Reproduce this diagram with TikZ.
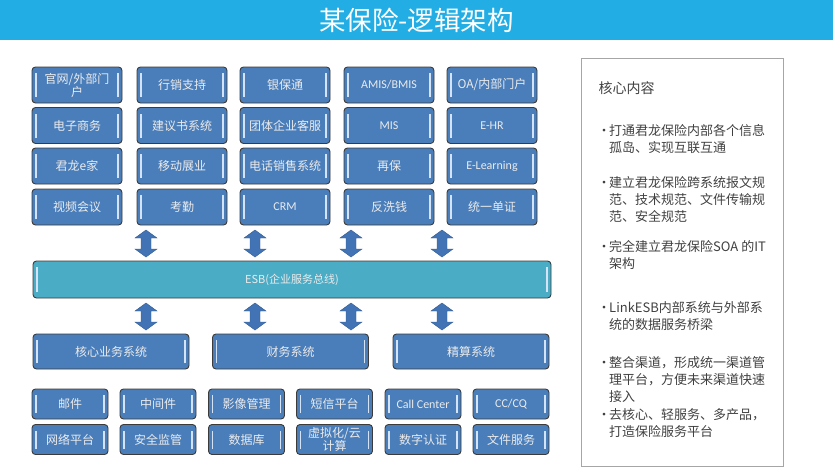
\documentclass[tikz,border=0pt]{standalone}
\usepackage{fontspec}
\newfontfamily\cjk{Noto Sans CJK SC}
\newfontfamily\latin{Carlito}
\usetikzlibrary{positioning}

\definecolor{titleblue}{HTML}{22AEE4}
\definecolor{boxblue}{HTML}{4A7EBB}
\definecolor{boxline}{HTML}{3B3B3B}
\definecolor{esbteal}{HTML}{4BACC6}
\definecolor{hilite}{HTML}{D4E3F5}
\definecolor{arrowblue}{HTML}{4173B5}
\definecolor{panelline}{HTML}{A6A6A6}
\definecolor{paneltext}{HTML}{404040}

\tikzset{
    box/.style={draw=boxline, fill=boxblue, rounded corners=3.5pt, line width=0.9pt,
        text=white!92!black, font=\cjk\fontsize{12}{13}\selectfont, align=center,
        inner sep=1pt, minimum width=90pt, minimum height=36pt,
        path picture={
            \draw[hilite, line width=1.1pt]
                ([shift={(4pt,6pt)}]path picture bounding box.south west) --
                ([shift={(4pt,-6pt)}]path picture bounding box.north west);
            \draw[hilite, line width=1.1pt]
                ([shift={(-4pt,6pt)}]path picture bounding box.south east) --
                ([shift={(-4pt,-6pt)}]path picture bounding box.north east);
        }},
    corebox/.style={box, minimum width=156pt, minimum height=35pt},
    basebox/.style={box, minimum width=76pt, minimum height=30pt},
    esbbox/.style={box, fill=esbteal, minimum width=518pt, minimum height=37pt,
        font=\cjk\fontsize{11}{13}\selectfont},
    paneltxt/.style={font=\cjk\fontsize{13}{17}\selectfont, text=paneltext,
        align=left, anchor=north west, inner sep=0pt}
}

% Doppelpfeil (x, y oben)
\newcommand{\dblarrow}[2]{%
    \filldraw[fill=arrowblue, draw=arrowblue!80!black, line width=0.4pt]
        (#1,#2) -- ++(11,8) -- ++(-6,0) -- ++(0,11) -- ++(6,0) -- ++(-11,8)
        -- ++(-11,-8) -- ++(6,0) -- ++(0,-11) -- ++(-6,0) -- cycle;}

\newcommand{\pkt}{\makebox[10pt][c]{·}}
\newcommand{\ein}{\hspace*{10pt}}

\begin{document}
\begin{tikzpicture}[x=1pt, y=-1pt]

  \useasboundingbox (0,0) rectangle (833,469);

  % Titel
  \fill[titleblue] (0,0) rectangle (833,40);
  \node[text=white, font=\cjk\fontsize{26.5}{28}\selectfont] (titel) at (416.5,20) {某保险-逻辑架构};

  % Anwendungen oben
  \node[box] (a11) at (77,85)  {官网/外部门\\户};
  \node[box] (a12) at (182,85) {行销支持};
  \node[box] (a13) at (285,85) {银保通};
  \node[box, font=\latin\fontsize{12}{13}\selectfont] (a14) at (389,85) {AMIS/BMIS};
  \node[box] (a15) at (492,85) {OA/内部门户};

  \node[box] (a21) at (77,125.5)  {电子商务};
  \node[box] (a22) at (182,125.5) {建议书系统};
  \node[box] (a23) at (285,125.5) {团体企业客服};
  \node[box, font=\latin\fontsize{12}{13}\selectfont] (a24) at (389,125.5) {MIS};
  \node[box, font=\latin\fontsize{12}{13}\selectfont] (a25) at (492,125.5) {E-HR};

  \node[box] (a31) at (77,166)  {君龙e家};
  \node[box] (a32) at (182,166) {移动展业};
  \node[box] (a33) at (285,166) {电话销售系统};
  \node[box] (a34) at (389,166) {再保};
  \node[box, font=\latin\fontsize{12}{13}\selectfont] (a35) at (492,166) {E-Learning};

  \node[box] (a41) at (77,207)  {视频会议};
  \node[box] (a42) at (182,207) {考勤};
  \node[box, font=\latin\fontsize{12}{13}\selectfont] (a43) at (285,207) {CRM};
  \node[box] (a44) at (389,207) {反洗钱};
  \node[box] (a45) at (492,207) {统一单证};

  % ESB
  \node[esbbox] (esb) at (292,279.5) {ESB(企业服务总线)};

  % Pfeile
  \dblarrow{146}{230}
  \dblarrow{255}{230}
  \dblarrow{351}{230}
  \dblarrow{442}{230}
  \dblarrow{146}{303}
  \dblarrow{255}{303}
  \dblarrow{351}{303}
  \dblarrow{442}{303}

  % Kernsysteme
  \node[corebox] (k1) at (111,351.5) {核心业务系统};
  \node[corebox] (k2) at (290.5,351.5) {财务系统};
  \node[corebox] (k3) at (471,351.5) {精算系统};

  % Basis
  \node[basebox] (b11) at (70,404)    {邮件};
  \node[basebox] (b12) at (158,404)   {中间件};
  \node[basebox] (b13) at (246.5,404) {影像管理};
  \node[basebox] (b14) at (334.5,404) {短信平台};
  \node[basebox, font=\latin\fontsize{12}{13}\selectfont] (b15) at (423,404) {Call Center};
  \node[basebox, font=\latin\fontsize{12}{13}\selectfont] (b16) at (511,404) {CC/CQ};

  \node[basebox] (b21) at (70,439.5)    {网络平台};
  \node[basebox] (b22) at (158,439.5)   {安全监管};
  \node[basebox] (b23) at (246.5,439.5) {数据库};
  \node[basebox] (b24) at (334.5,439.5) {虚拟化/云\\计算};
  \node[basebox] (b25) at (423,439.5)   {数字认证};
  \node[basebox] (b26) at (511,439.5)   {文件服务};

  % Kerninhalt
  \draw[panelline, line width=1pt] (581,58) rectangle (783,466);
  \node[font=\cjk\fontsize{14}{16}\selectfont, text=paneltext, anchor=west] (kopf) at (595,88) {核心内容};

  \node[paneltxt] (p1) at (599,124) {\pkt 打通君龙保险内部各个信息\\\ein 孤岛、实现互联互通};
  \node[paneltxt] (p2) at (599,176) {\pkt 建立君龙保险跨系统报文规\\\ein 范、技术规范、文件传输规\\\ein 范、安全规范};
  \node[paneltxt] (p3) at (599,240) {\pkt 完全建立君龙保险SOA 的IT\\\ein 架构};
  \node[paneltxt] (p4) at (599,301) {\pkt LinkESB内部系统与外部系\\\ein 统的数据服务桥梁};
  \node[paneltxt] (p5) at (599,356) {\pkt 整合渠道，形成统一渠道管\\\ein 理平台，方便未来渠道快速\\\ein 接入};
  \node[paneltxt] (p6) at (599,408) {\pkt 去核心、轻服务、多产品，\\\ein 打造保险服务平台};

\end{tikzpicture}
\end{document}
